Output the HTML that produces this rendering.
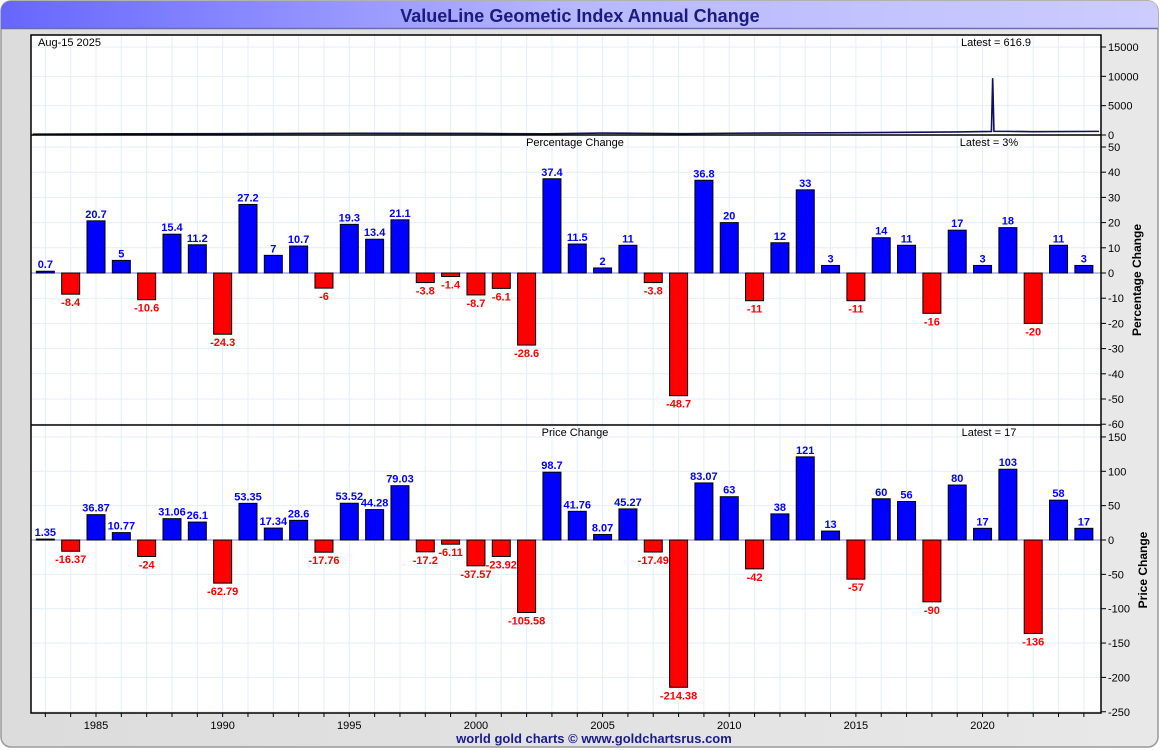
<!DOCTYPE html>
<html><head><meta charset="utf-8"><style>
html,body{margin:0;padding:0;width:1160px;height:750px;overflow:hidden;background:#fff;font-family:"Liberation Sans",sans-serif}
</style></head><body>
<svg id="chart" width="1160" height="750" xmlns="http://www.w3.org/2000/svg" font-family="Liberation Sans, sans-serif">
<defs>
<linearGradient id="tg" x1="0" x2="1" y1="0" y2="0"><stop offset="0" stop-color="#6666ff"/><stop offset="0.5" stop-color="#b8b8ff"/><stop offset="1" stop-color="#ccccff"/></linearGradient>
<linearGradient id="bg" x1="0" x2="1" y1="0" y2="0"><stop offset="0" stop-color="#dcdcdc"/><stop offset="1" stop-color="#e8e8e8"/></linearGradient>
</defs>
<rect x="1" y="1" width="1157" height="746" rx="10" fill="url(#bg)" stroke="#999" stroke-width="1.5"/>
<path d="M1 28 L1 12 Q1 1 12 1 L1148 1 Q1158 1 1158 12 L1158 28 Z" fill="url(#tg)"/>
<line x1="1" y1="28.5" x2="1158" y2="28.5" stroke="#6b6bb0" stroke-width="1.5"/>
<text x="580" y="22" text-anchor="middle" font-size="18" font-weight="bold" fill="#1a1a80">ValueLine Geometic Index Annual Change</text>
<g id="g"></g>
<text x="594" y="743" text-anchor="middle" font-size="13" font-weight="bold" fill="#1a1a90">world gold charts © www.goldchartsrus.com</text>
</svg>
<script>
const years=[1983,1984,1985,1986,1987,1988,1989,1990,1991,1992,1993,1994,1995,1996,1997,1998,1999,2000,2001,2002,2003,2004,2005,2006,2007,2008,2009,2010,2011,2012,2013,2014,2015,2016,2017,2018,2019,2020,2021,2022,2023,2024];
const pctChange=[0.7,-8.4,20.7,5,-10.6,15.4,11.2,-24.3,27.2,7,10.7,-6,19.3,13.4,21.1,-3.8,-1.4,-8.7,-6.1,-28.6,37.4,11.5,2,11,-3.8,-48.7,36.8,20,-11,12,33,3,-11,14,11,-16,17,3,18,-20,11,3];
const priceChange=[1.35,-16.37,36.87,10.77,-24,31.06,26.1,-62.79,53.35,17.34,28.6,-17.76,53.52,44.28,79.03,-17.2,-6.11,-37.57,-23.92,-105.58,98.7,41.76,8.07,45.27,-17.49,-214.38,83.07,63,-42,38,121,13,-57,60,56,-90,80,17,103,-136,58,17];
const idxYears=[1982.5,1985,1990,1995,2000,2002.8,2005,2008.2,2010,2015,2019,2020.35,2020.4,2020.45,2021,2022,2024.6];
const idxValues=[150,190,230,300,260,200,330,230,300,400,520,600,9700,620,620,560,617];
const pctTicks=[50,40,30,20,10,0,-10,-20,-30,-40,-50,-60];
const priceTicks=[150,100,50,0,-50,-100,-150,-200,-250];
const topTicks=[15000,10000,5000,0];
const xTicks=[1985,1990,1995,2000,2005,2010,2015,2020];

const NS="http://www.w3.org/2000/svg";
const g=document.getElementById('g');
function el(t,a,p){const e=document.createElementNS(NS,t);for(const k in a)e.setAttribute(k,a[k]);(p||g).appendChild(e);return e;}
const L=31,R=1101;
const x=y=>96+(y-1985)*25.33;
const yTop=v=>135-v*(88/15000);
const yPct=v=>273-v*2.52;
const yPrice=v=>540-v*0.687;

const p1=el('rect',{x:L,y:35,width:R-L,height:678,fill:'#fff'});


for(let yr=1983;yr<=2025;yr++){const gx=x(yr);if(gx<=L||gx>=R)continue;
 el('line',{x1:gx,y1:35,x2:gx,y2:713,stroke:'#e2eef8','stroke-width':1});
 el('line',{x1:gx,y1:713,x2:gx,y2:717,stroke:'#000'});}
topTicks.forEach(v=>{el('line',{x1:L,y1:yTop(v),x2:R,y2:yTop(v),stroke:'#e2eef8'});});
for(let v=50;v>=-60;v-=10){el('line',{x1:L,y1:yPct(v),x2:R,y2:yPct(v),stroke:'#e2eef8'});}
for(let v=150;v>=-250;v-=50){el('line',{x1:L,y1:yPrice(v),x2:R,y2:yPrice(v),stroke:'#e2eef8'});}

let pts=idxYears.map((yy,i)=>x(yy)+','+yTop(idxValues[i])).join(' ');
const ln=el('polyline',{points:pts,fill:'none',stroke:'#101060','stroke-width':1.6});



el('line',{x1:L,y1:yPct(0),x2:R,y2:yPct(0),stroke:'#7b7bdd'});
el('line',{x1:L,y1:yPrice(0),x2:R,y2:yPrice(0),stroke:'#7b7bdd'});

function bars(vals,yf,name){
 vals.forEach((v,i)=>{const cx=x(years[i]);const y0=yf(0),y1=yf(v);
  const r=el('rect',{x:cx-9,y:Math.min(y0,y1),width:18,height:Math.max(Math.abs(y1-y0),1),fill:v>=0?'#0000ff':'#ff0000',stroke:'#000','stroke-width':1});
  
  
  const t=el('text',{x:cx,y:v>=0?y1-3:y1+12,'text-anchor':'middle','font-size':11,'font-weight':'bold',fill:v>=0?'#0000ff':'#ff0000'});
  t.textContent=String(v);
  
  
 });
}
bars(pctChange,yPct,'pct');
bars(priceChange,yPrice,'price');

el('rect',{x:L,y:35,width:R-L,height:678,fill:'none',stroke:'#000','stroke-width':1.5});
el('line',{x1:L,y1:135,x2:R,y2:135,stroke:'#000','stroke-width':1.5});
el('line',{x1:L,y1:425,x2:R,y2:425,stroke:'#000','stroke-width':1.5});

function axis(ticks,yf,name){ticks.forEach(v=>{const yy=yf(v);
 el('line',{x1:R,y1:yy,x2:R+5,y2:yy,stroke:'#000'});
 const t=el('text',{x:R+7,y:yy+4,'font-size':11,fill:'#000'});t.textContent=v;
 
 });}
axis(topTicks,yTop,'top-y');
axis(pctTicks,yPct,'pct-y');
axis(priceTicks,yPrice,'price-y');
xTicks.forEach(v=>{const t=el('text',{x:x(v),y:729,'text-anchor':'middle','font-size':11});t.textContent=v;
 
 });

function txt(s,a,name){const t=el('text',a);t.textContent=s;
 
 return t;}
txt('Aug-15  2025',{x:38,y:46,'font-size':11},'date-label');
txt('Latest = 616.9',{x:996,y:46,'text-anchor':'middle','font-size':11},'latest-index');
txt('Percentage Change',{x:575,y:146,'text-anchor':'middle','font-size':11},'pct-panel-title');
txt('Latest = 3%',{x:989,y:146,'text-anchor':'middle','font-size':11},'latest-pct');
txt('Price Change',{x:575,y:436,'text-anchor':'middle','font-size':11},'price-panel-title');
txt('Latest = 17',{x:989,y:436,'text-anchor':'middle','font-size':11},'latest-price');
txt('Percentage Change',{x:1141,y:280,'text-anchor':'middle','font-size':12,'font-weight':'bold',transform:'rotate(-90 1141 280)'},'pct-y-axis-title');
txt('Price Change',{x:1147,y:570,'text-anchor':'middle','font-size':12,'font-weight':'bold',transform:'rotate(-90 1147 570)'},'price-y-axis-title');
</script>
</body></html>
